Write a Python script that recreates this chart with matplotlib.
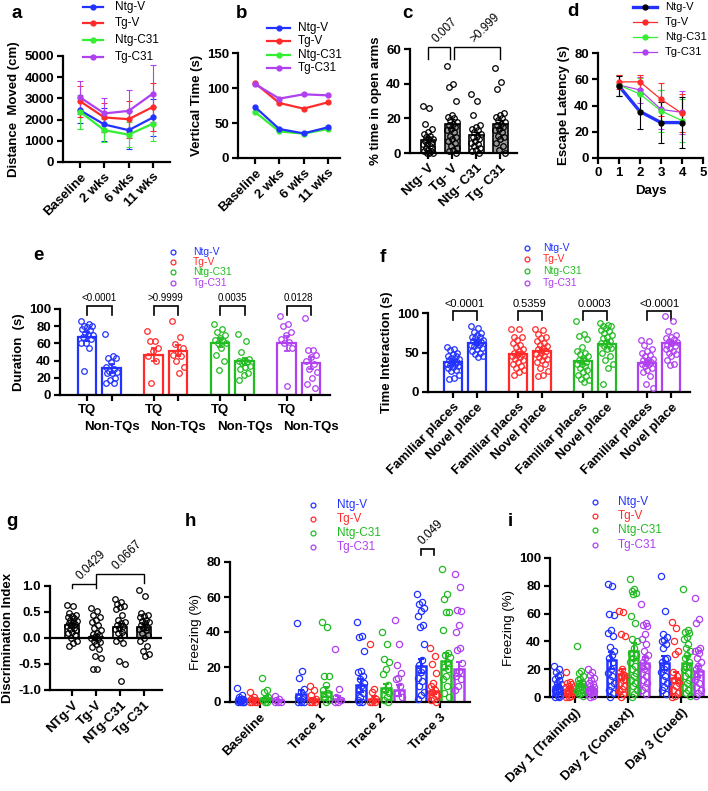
import numpy as np
import matplotlib
matplotlib.use('Agg')
import matplotlib.pyplot as plt
from matplotlib.lines import Line2D

plt.rcParams['font.family'] = ['Liberation Sans', 'DejaVu Sans']
plt.rcParams['font.weight'] = 'bold'
plt.rcParams['axes.labelweight'] = 'bold'

BLUE = '#2233ff'; RED = '#ff2b2b'; LGREEN = '#33ee33'; GREEN = '#22bb22'; PURPLE = '#b040f0'
groups = ['Ntg-V', 'Tg-V', 'Ntg-C31', 'Tg-C31']

# ---------------- data ----------------
# a
a_time = ['Baseline', '2 wks', '6 wks', '11 wks']
a_ntgv = [2440, 1770, 1500, 2100]; a_ntgv_sd = [580, 800, 900, 850]
a_tgv = [2870, 2100, 2020, 2600]; a_tgv_sd = [730, 700, 880, 1150]
a_ntgc = [2370, 1500, 1290, 1810]; a_ntgc_sd = [790, 550, 600, 800]
a_tgc = [3050, 2290, 2410, 3230]; a_tgc_sd = [780, 750, 980, 1340]
# b
b_ntgv = [72.9, 41.4, 35.2, 43.8]
b_tgv = [107, 78.6, 70.5, 79.5]
b_ntgc = [65.7, 38, 34.8, 41.4]
b_tgc = [105.7, 84.8, 91, 89.5]
# c
c_labels = ['Ntg- V', 'Tg- V', 'Ntg- C31', 'Tg- C31']
c_means = [7.7, 16.9, 10.2, 16.7]
c_sems = [1.5, 2.5, 2.0, 2.5]
c_ntgv = [27, 26, 17, 14, 12, 11, 10, 9, 8, 8, 7, 6, 5, 5, 4, 3, 3, 2, 1, 1, 0, 0, 0]
c_tgv = [50, 40, 38, 30, 22, 21, 20, 19, 18, 17, 16, 15, 14, 13, 12, 10, 9, 8, 7, 6, 4, 3, 2, 1, 0]
c_ntgc = [34, 30, 22, 16, 15, 14, 13, 12, 11, 10, 9, 8, 7, 6, 5, 4, 3, 2, 1, 0]
c_tgc = [49, 41, 37, 23, 22, 21, 20, 19, 18, 17, 16, 15, 14, 13, 12, 10, 9, 8, 6, 4, 2, 0]
# d
d_days = [1, 2, 3, 4]
d_ntgv = [54.8, 35.4, 27, 27]; d_ntgv_sd = [7.6, 13, 15.5, 19.5]
d_tgv = [58, 58, 44.7, 34]; d_tgv_sd = [5.5, 5.5, 12.5, 14.5]
d_ntgc = [55.6, 48.7, 35.9, 28.5]; d_ntgc_sd = [8, 12, 16, 16.5]
d_tgc = [55.6, 51.8, 37, 34.8]; d_tgc_sd = [8, 10, 15, 16.5]
# e
e_ticks = ['TQ', 'Non-TQs']
e_means = [68, 31, 47, 51.7, 61, 39, 60, 37.7]
e_sems = [5, 5, 7.5, 6.5, 5, 4, 8.5, 7]
e_pvals = ['<0.0001', '>0.9999', '0.0035', '0.0128']
e_ntgv_tq = [86, 83, 80, 80, 79, 77, 75, 72, 70, 70, 68, 65, 61, 60, 55, 28]
e_ntgv_non = [71, 45, 43, 43, 38, 33, 30, 28, 27, 26, 25, 20, 18, 14, 14]
e_tgv_tq = [74, 63, 63, 55, 51, 45, 40, 14]
e_tgv_non = [86, 67, 59, 55, 50, 47, 45, 40, 33, 26]
e_ntgc_tq = [82, 77, 73, 70, 66, 64, 63, 61, 60, 55, 47, 40, 29]
e_ntgc_non = [71, 63, 50, 42, 40, 39, 38, 37, 34, 33, 30, 25, 23, 18]
e_tgc_tq = [92, 83, 80, 73, 70, 65, 62, 60, 55, 11]
e_tgc_non = [89, 52, 52, 46, 44, 40, 36, 30, 27, 20, 13, 8]
# f
f_ticks = ['Familiar places', 'Novel place']
f_means = [38, 62, 48, 52, 39, 61, 37, 62]
f_sems = [2.5, 2.5, 3, 3, 4, 3.5, 3, 3]
f_pvals = ['<0.0001', '0.5359', '0.0003', '<0.0001']
f_ntgv_fam = [57, 55, 53, 50, 48, 46, 45, 43, 42, 40, 40, 38, 37, 36, 35, 34, 33, 32, 30, 28, 26, 22, 18, 17]
f_ntgv_nov = [83, 81, 76, 75, 72, 70, 70, 68, 66, 65, 64, 63, 62, 60, 60, 58, 56, 54, 52, 50, 48, 45, 44]
f_tgv_fam = [80, 80, 70, 70, 66, 62, 60, 57, 55, 52, 50, 48, 47, 45, 44, 42, 40, 38, 35, 33, 30, 28, 25, 22]
f_tgv_nov = [80, 78, 73, 70, 68, 65, 62, 60, 58, 56, 54, 52, 50, 48, 46, 44, 42, 40, 38, 35, 30, 27, 22, 20]
f_ntgc_fam = [90, 73, 71, 67, 57, 52, 50, 48, 45, 43, 40, 38, 36, 35, 33, 30, 28, 25, 22, 20, 17, 15, 13]
f_ntgc_nov = [87, 85, 84, 83, 81, 79, 77, 75, 72, 70, 68, 65, 63, 62, 60, 58, 56, 54, 50, 45, 40, 35, 30, 10]
f_tgc_fam = [66, 64, 60, 55, 52, 50, 47, 45, 42, 40, 40, 38, 37, 36, 35, 33, 31, 28, 25, 20, 10, 5]
f_tgc_nov = [96, 90, 77, 72, 70, 68, 67, 65, 63, 62, 60, 58, 56, 54, 52, 50, 48, 45, 40, 36, 34]
# g
g_labels = ['NTg-V', 'Tg-V', 'NTg-C31', 'Tg-C31']
g_means = [0.245, 0.02, 0.21, 0.21]
g_sems = [0.04, 0.05, 0.07, 0.06]
g_ntgv = [0.63, 0.62, 0.48, 0.45, 0.42, 0.4, 0.38, 0.35, 0.33, 0.3, 0.28, 0.27, 0.25, 0.23, 0.2, 0.18, 0.15, 0.12, 0.1, 0.05, 0.0, -0.05, -0.1, -0.15]
g_tgv = [0.58, 0.52, 0.45, 0.4, 0.35, 0.3, 0.25, 0.2, 0.15, 0.1, 0.08, 0.05, 0.02, 0.0, -0.02, -0.05, -0.08, -0.12, -0.18, -0.22, -0.35, -0.38, -0.6, -0.6]
g_ntgc = [0.75, 0.7, 0.65, 0.62, 0.6, 0.55, 0.45, 0.35, 0.3, 0.28, 0.25, 0.23, 0.2, 0.18, 0.12, 0.1, 0.05, 0.0, -0.05, -0.1, -0.45, -0.5, -0.82]
g_tgc = [0.92, 0.8, 0.48, 0.45, 0.42, 0.4, 0.35, 0.32, 0.3, 0.28, 0.25, 0.22, 0.2, 0.18, 0.15, 0.1, 0.05, 0.0, -0.05, -0.15, -0.25, -0.3, -0.35]
# h
h_phases = ['Baseline', 'Trace 1', 'Trace 2', 'Trace 3']
h_ntgv_mean = [2, 4.5, 9.5, 20.3]; h_ntgv_sem = [0.6, 2.5, 3.5, 4]
h_tgv_mean = [1.5, 1.5, 1.5, 6.5]; h_tgv_sem = [0.5, 0.8, 2, 2]
h_ntgc_mean = [2.5, 5.8, 8, 23.6]; h_ntgc_sem = [0.8, 3, 2.5, 4.5]
h_tgc_mean = [1, 1.5, 6.6, 18.7]; h_tgc_sem = [0.4, 2, 3, 4]
h_ntgv = [[8, 4, 3, 2, 2, 1, 1, 0.5, 0, 0, 0, 0],
          [45, 18, 14, 7.5, 5.5, 3, 2, 1, 0, 0, 0],
          [46, 38, 37, 29, 18, 17, 15, 13, 11, 9, 7, 5, 3, 1, 0, 0],
          [62, 57, 56, 54, 52, 49, 44, 43, 33, 24, 21, 19, 17, 14, 12, 9, 6, 4, 2]]
h_tgv = [[6, 3, 2, 1, 1, 0, 0, 0, 0],
         [9, 7, 4, 2, 1, 0, 0, 0],
         [33, 7.5, 5.5, 2, 1, 0, 0, 0],
         [31, 26.5, 22, 16.5, 11, 9, 7, 6, 4, 2, 1, 0]]
h_ntgc = [[13.5, 7, 5.5, 3, 2, 1, 0, 0],
          [45.5, 43, 15, 15, 9.5, 7, 5, 3, 1, 0],
          [40, 33, 24.5, 23, 19, 16, 10, 7, 5, 3, 1, 0],
          [76, 62, 59, 51.5, 51.5, 41, 28, 27, 26, 23, 20, 19, 15, 13, 9, 5, 3]]
h_tgc = [[3.5, 2, 1, 0, 0, 0],
         [30.5, 7.5, 3, 1, 0, 0],
         [47, 33, 21, 16.5, 14, 13, 9, 5, 3],
         [73, 66, 52.5, 52, 44, 40, 31, 30, 22.5, 18, 15, 13, 9, 7]]
# i
i_days = ['Day 1 (Training)', 'Day 2 (Context)', 'Day 3 (Cued)']
i_ntgv_mean = [7, 26.4, 24.5]; i_ntgv_sem = [1.5, 6, 5]
i_tgv_mean = [5.3, 16.3, 13.9]; i_tgv_sem = [1.2, 4, 4]
i_ntgc_mean = [9.6, 32.9, 24.7]; i_ntgc_sem = [2, 6, 5]
i_tgc_mean = [6, 24.5, 18.5]; i_tgc_sem = [1.5, 4.5, 4]
i_ntgv = [[22, 20, 18, 16, 15, 13, 12, 10, 9, 8, 7, 6, 5, 5, 4, 3, 2, 1, 0, 0],
          [81, 80, 60, 59, 48, 46, 44, 36, 33, 30, 28, 25, 20, 17, 15, 12, 10, 8, 5, 3, 0],
          [87, 62, 45, 43, 41, 40, 38, 35, 28, 27, 25, 22, 20, 18, 15, 12, 10, 7, 5, 2]]
i_tgv = [[18, 11, 10, 9, 8, 7, 6, 5, 4, 3, 2, 1, 0, 0],
         [62, 61, 45, 44, 20, 18, 16, 15, 13, 12, 10, 8, 6, 4, 2, 0],
         [54, 50, 40, 33, 31, 18, 15, 12, 10, 8, 5, 3, 1, 0]]
i_ntgc = [[37, 19, 17, 15, 13, 12, 11, 10, 9, 8, 7, 6, 5, 4, 3, 2, 1],
          [85, 78, 76, 75, 74, 58, 53, 42, 40, 35, 32, 30, 28, 25, 22, 20, 17, 15, 12, 10, 8, 5, 2, 0],
          [78, 48, 47, 46, 43, 42, 38, 35, 33, 30, 28, 25, 22, 20, 17, 15, 12, 10, 7, 5, 3, 1]]
i_tgc = [[20, 18, 16, 14, 12, 10, 9, 8, 7, 6, 5, 4, 3, 2, 1, 0],
         [67, 53, 52, 51, 45, 42, 38, 33, 30, 28, 25, 22, 20, 17, 15, 12, 10, 7, 5, 2],
         [71, 56, 53, 35, 34, 33, 32, 28, 25, 22, 20, 18, 15, 12, 10, 7, 5, 3, 1]]

# ---------------- helpers ----------------
W, H = 708, 791
fig = plt.figure(figsize=(W / 100, H / 100), dpi=100)


def fx(x):
    return x / W


def fy(y):
    return 1 - y / H


def add_ax(x0, x1, ytop, ybot):
    ax = fig.add_axes([fx(x0), fy(ybot), (x1 - x0) / W, (ybot - ytop) / H])
    for s in ('top', 'right'):
        ax.spines[s].set_visible(False)
    for s in ('left', 'bottom'):
        ax.spines[s].set_linewidth(1.6)
    ax.tick_params(width=1.6, length=4.5, labelsize=9.5, pad=2)
    ax.patch.set_alpha(0)
    return ax


def panel_label(x, y, s):
    fig.text(fx(x), fy(y), s, fontsize=13.5, fontweight='bold', ha='center', va='center')


def line_legend(x0, x1, xt, ys, labels, colors, lws, mcols, fs=8.5):
    for y, lab, c, lw, mc in zip(ys, labels, colors, lws, mcols):
        fig.add_artist(Line2D([fx(x0), fx(x1)], [fy(y), fy(y)], color=c, lw=lw))
        fig.add_artist(Line2D([fx((x0 + x1) / 2)], [fy(y)], marker='o', ms=3.5, color=mc, ls='none'))
        fig.text(fx(xt), fy(y), lab, fontsize=fs, fontweight='normal', va='center', ha='left')


def dot_legend(xm, xt, ys, labels, colors, fs=8):
    for y, lab, c in zip(ys, labels, colors):
        fig.add_artist(Line2D([fx(xm)], [fy(y)], marker='o', ms=3.5, mfc='none', mec=c, mew=0.9, ls='none'))
        fig.text(fx(xt), fy(y), lab, color=c, fontsize=fs, fontweight='normal', va='center', ha='left')


def jitter(n, spread):
    k = np.arange(n)
    return ((k * 0.6180339887) % 1.0 - 0.5) * 2 * spread


def bars(ax, pos, means, sems, pts, edges, faces, width, lw, ptcols, errcols, ms=4, spread=None):
    if spread is None:
        spread = width * 0.35
    ax.bar(pos, means, width=width, color=faces, edgecolor=edges, linewidth=lw, zorder=2)
    for p, m, s, v, pc, ec in zip(pos, means, sems, pts, ptcols, errcols):
        v = np.sort(np.asarray(v, dtype=float))[::-1]
        off = jitter(len(v), spread)
        ax.plot(p + off, v, ls='none', marker='o', ms=ms, mfc='none', mec=pc, mew=0.9,
                zorder=3, clip_on=False)
        ax.errorbar(p, m, yerr=s, fmt='none', ecolor=ec, capsize=2.5, elinewidth=lw * 0.8,
                    capthick=lw * 0.8, zorder=4)


def bracket(ax, x1, x2, ytop, ylo1, ylo2, lw=1.2):
    ax.plot([x1, x1, x2, x2], [ylo1, ytop, ytop, ylo2], color='k', lw=lw, clip_on=False,
            solid_joinstyle='miter')


# ---------------- panel a ----------------
ax = add_ax(63, 170, 56, 162)
xs = np.arange(4)
for v, sd, c in [(a_ntgv, a_ntgv_sd, BLUE), (a_ntgc, a_ntgc_sd, LGREEN),
                 (a_tgv, a_tgv_sd, RED), (a_tgc, a_tgc_sd, PURPLE)]:
    ax.errorbar(xs, v, yerr=sd, color=c, marker='o', ms=3.5, lw=1.6, capsize=2.5,
                elinewidth=0.8, capthick=0.8)
ax.set_xlim(-0.7, 3.7)
ax.set_ylim(0, 5000)
ax.set_yticks([0, 1000, 2000, 3000, 4000, 5000])
ax.set_xticks(xs)
ax.set_xticklabels(a_time, rotation=45, ha='right', rotation_mode='anchor')
ax.set_ylabel('Distance  Moved (cm)', fontsize=9.5, labelpad=3)
line_legend(83, 103, 115, [7, 23, 40, 57], groups, [BLUE, RED, LGREEN, PURPLE],
            [1.6] * 4, [BLUE, RED, LGREEN, PURPLE])
panel_label(17, 13, 'a')

# ---------------- panel b ----------------
ax = add_ax(238, 340, 53, 158)
for v, c in [(b_ntgc, LGREEN), (b_ntgv, BLUE), (b_tgv, RED), (b_tgc, PURPLE)]:
    ax.plot(xs, v, color=c, marker='o', ms=3.5, lw=1.6)
ax.set_xlim(-0.7, 3.5)
ax.set_ylim(0, 150)
ax.set_yticks([0, 50, 100, 150])
ax.set_xticks(xs)
ax.set_xticklabels(a_time, rotation=45, ha='right', rotation_mode='anchor')
ax.set_ylabel('Vertical Time (s)', fontsize=9.5, labelpad=3)
line_legend(267, 290, 298, [28, 41, 55, 68], groups, [BLUE, RED, LGREEN, PURPLE],
            [1.6] * 4, [BLUE, RED, LGREEN, PURPLE])
panel_label(242, 13, 'b')

# ---------------- panel c ----------------
ax = add_ax(410, 517, 49, 153)
bars(ax, xs, c_means, c_sems, [c_ntgv, c_tgv, c_ntgc, c_tgc], 'k',
     ['white', '#9a9a9a', 'white', '#9a9a9a'], 0.62, 1.2, ['k'] * 4, ['k'] * 4, ms=4)
ax.set_xlim(-0.75, 3.7)
ax.set_ylim(0, 60)
ax.set_yticks([0, 20, 40, 60])
ax.set_xticks(xs)
ax.set_xticklabels(c_labels, rotation=45, ha='right', rotation_mode='anchor')
ax.set_ylabel('% time in open arms', fontsize=9.5, labelpad=3)
bracket(ax, 0, 0.93, 61, 54.5, 54.5, lw=1.0)
bracket(ax, 1.1, 3, 61, 54.5, 54.5, lw=1.0)
ax.text(0.45, 62.5, '0.007', rotation=45, rotation_mode='anchor', ha='left', va='bottom',
        fontsize=8.5, fontweight='normal', clip_on=False)
ax.text(2.0, 62.5, '>0.999', rotation=45, rotation_mode='anchor', ha='left', va='bottom',
        fontsize=8.5, fontweight='normal', clip_on=False)
panel_label(407, 13, 'c')

# ---------------- panel d ----------------
ax = add_ax(598, 703, 53, 158)
for v, sd, c, lw, mc in [(d_tgc, d_tgc_sd, PURPLE, 0.9, PURPLE), (d_ntgc, d_ntgc_sd, LGREEN, 0.9, LGREEN),
                         (d_tgv, d_tgv_sd, RED, 0.9, RED), (d_ntgv, d_ntgv_sd, BLUE, 2.4, 'k')]:
    ax.plot(d_days, v, color=c, lw=lw, zorder=2)
    ax.errorbar(d_days, v, yerr=sd, fmt='o', color=mc, ms=3.5, ecolor=mc, capsize=2.5,
                elinewidth=0.8, capthick=0.8, zorder=3)
ax.set_xlim(0, 5)
ax.set_ylim(0, 80)
ax.set_xticks([0, 1, 2, 3, 4, 5])
ax.set_yticks([0, 20, 40, 60, 80])
ax.set_ylabel('Escape Latency (s)', fontsize=9.5, labelpad=3)
ax.set_xlabel('Days', fontsize=9.5, labelpad=4)
line_legend(633, 657, 665, [7, 22, 37, 52], groups, [BLUE, RED, LGREEN, PURPLE],
            [2.4, 0.9, 0.9, 0.9], ['k', RED, LGREEN, PURPLE], fs=8)
panel_label(573, 12, 'd')

# ---------------- panel e ----------------
ax = add_ax(60, 330, 309, 395)
gs_e = 2.71
e_pos = np.array([g * gs_e + k for g in range(4) for k in (0, 1)])
e_cols = [c for c in (BLUE, RED, GREEN, PURPLE) for _ in (0, 1)]
bars(ax, e_pos, e_means, e_sems,
     [e_ntgv_tq, e_ntgv_non, e_tgv_tq, e_tgv_non, e_ntgc_tq, e_ntgc_non, e_tgc_tq, e_tgc_non],
     e_cols, 'white', 0.75, 1.6, e_cols, e_cols, ms=4)
ax.set_xlim(-1.1, 9.9)
ax.set_ylim(0, 100)
ax.set_yticks([0, 20, 40, 60, 80, 100])
ax.set_xticks(e_pos[0::2])
ax.set_xticklabels([e_ticks[0]] * 4)
ax.set_xticks(e_pos[1::2], minor=True)
ax.set_xticklabels([e_ticks[1]] * 4, minor=True)
ax.tick_params(axis='x', which='minor', width=1.6, length=4.5, labelsize=9.5, pad=14)
ax.set_ylabel('Duration  (s)', fontsize=9.5, labelpad=3)
for g in range(4):
    bracket(ax, g * gs_e, g * gs_e + 1, 103, 93, 93, lw=1.2)
    ax.text(g * gs_e + 0.5, 106.5, e_pvals[g], ha='center', va='bottom', fontsize=7,
            fontweight='normal', clip_on=False)
dot_legend(173, 193, [252, 262, 272, 283], groups, [BLUE, RED, GREEN, PURPLE], fs=7.5)
panel_label(38, 255, 'e')

# ---------------- panel f ----------------
ax = add_ax(428, 690, 313, 392)
gs_f = 2.7
f_pos = np.array([g * gs_f + k for g in range(4) for k in (0, 1)])
bars(ax, f_pos, f_means, f_sems,
     [f_ntgv_fam, f_ntgv_nov, f_tgv_fam, f_tgv_nov, f_ntgc_fam, f_ntgc_nov, f_tgc_fam, f_tgc_nov],
     e_cols, 'white', 0.75, 1.6, e_cols, e_cols, ms=4)
ax.set_xlim(-1.04, 9.875)
ax.set_ylim(0, 100)
ax.set_yticks([0, 50, 100])
ax.set_xticks(f_pos)
ax.set_xticklabels(f_ticks * 4, rotation=45, ha='right', rotation_mode='anchor')
ax.set_ylabel('Time Interaction (s)', fontsize=9.5, labelpad=3)
for g in range(4):
    bracket(ax, g * gs_f, g * gs_f + 1, 102, 91.5, 91.5, lw=1.2)
    ax.text(g * gs_f + 0.5, 104.5, f_pvals[g], ha='center', va='bottom', fontsize=8,
            fontweight='normal', clip_on=False)
dot_legend(527, 543, [248, 259, 271, 283], groups, [BLUE, RED, GREEN, PURPLE], fs=7.5)
panel_label(383, 258, 'f')

# ---------------- panel g ----------------
ax = add_ax(50, 162, 586, 690)
bars(ax, xs, g_means, g_sems, [g_ntgv, g_tgv, g_ntgc, g_tgc], 'k',
     ['white', 'white', 'white', '#9a9a9a'], 0.62, 1.2, ['k'] * 4, ['k'] * 4, ms=4)
ax.axhline(0, color='k', lw=1.6, zorder=5)
ax.set_xlim(-0.92, 3.75)
ax.set_ylim(-1, 1)
ax.set_yticks([-1.0, -0.5, 0.0, 0.5, 1.0])
ax.set_yticklabels(['-1.0', '-0.5', '0.0', '0.5', '1.0'])
ax.set_xticks(xs)
ax.set_xticklabels(g_labels, rotation=45, ha='right', rotation_mode='anchor')
ax.set_ylabel('Discrimination Index', fontsize=9.5, labelpad=3)
bracket(ax, 0, 1, 1.03, 0.955, 0.955, lw=1.0)
bracket(ax, 1, 3, 1.23, 1.05, 1.05, lw=1.0)
ax.text(0.45, 1.07, '0.0429', rotation=45, rotation_mode='anchor', ha='left', va='bottom',
        fontsize=8.5, fontweight='normal', clip_on=False)
ax.text(1.95, 1.27, '0.0667', rotation=45, rotation_mode='anchor', ha='left', va='bottom',
        fontsize=8.5, fontweight='normal', clip_on=False)
panel_label(12, 522, 'g')

# ---------------- panel h ----------------
ax = add_ax(230, 470, 562, 702)
gs_h = 4.8
offs = np.array([-1.5, -0.5, 0.5, 1.5])
cols4 = [BLUE, RED, GREEN, PURPLE]
for k, (mn, se, pts) in enumerate([(h_ntgv_mean, h_ntgv_sem, h_ntgv), (h_tgv_mean, h_tgv_sem, h_tgv),
                                    (h_ntgc_mean, h_ntgc_sem, h_ntgc), (h_tgc_mean, h_tgc_sem, h_tgc)]):
    pos = np.arange(4) * gs_h + offs[k]
    c = cols4[k]
    bars(ax, pos, mn, se, pts, c, 'white', 0.8, 1.8, [c] * 4, [c] * 4, ms=4.5, spread=0.3)
ax.set_xlim(-2.36, 16.8)
ax.set_ylim(0, 80)
ax.set_yticks([0, 20, 40, 60, 80])
ax.set_xticks(np.arange(4) * gs_h)
ax.set_xticklabels(h_phases, rotation=45, ha='right', rotation_mode='anchor')
ax.set_ylabel('Freezing (%)', fontsize=9.5, fontweight='normal', labelpad=3)
bracket(ax, 3 * gs_h - 1.5, 3 * gs_h - 0.5, 87.3, 84, 84, lw=1.2)
ax.text(3 * gs_h - 1.25, 88.5, '0.049', rotation=45, rotation_mode='anchor', ha='left', va='bottom',
        fontsize=8.5, fontweight='normal', clip_on=False)
dot_legend(313, 337, [505, 519, 533, 547], groups, cols4, fs=8.5)
panel_label(190, 522, 'h')

# ---------------- panel i ----------------
ax = add_ax(550, 707, 558, 697)
gs_i = 4.75
for k, (mn, se, pts) in enumerate([(i_ntgv_mean, i_ntgv_sem, i_ntgv), (i_tgv_mean, i_tgv_sem, i_tgv),
                                    (i_ntgc_mean, i_ntgc_sem, i_ntgc), (i_tgc_mean, i_tgc_sem, i_tgc)]):
    pos = np.arange(3) * gs_i + offs[k]
    c = cols4[k]
    bars(ax, pos, mn, se, pts, c, 'white', 0.8, 1.8, [c] * 3, [c] * 3, ms=4.5, spread=0.3)
ax.set_xlim(-2.2, 11.8)
ax.set_ylim(0, 100)
ax.set_yticks([0, 20, 40, 60, 80, 100])
ax.set_xticks(np.arange(3) * gs_i)
ax.set_xticklabels(i_days, rotation=45, ha='right', rotation_mode='anchor')
ax.set_ylabel('Freezing (%)', fontsize=9.5, fontweight='normal', labelpad=3)
dot_legend(595, 618, [502, 516, 530, 545], groups, cols4, fs=8.5)
panel_label(510, 522, 'i')

fig.savefig('out.png', dpi=100)
